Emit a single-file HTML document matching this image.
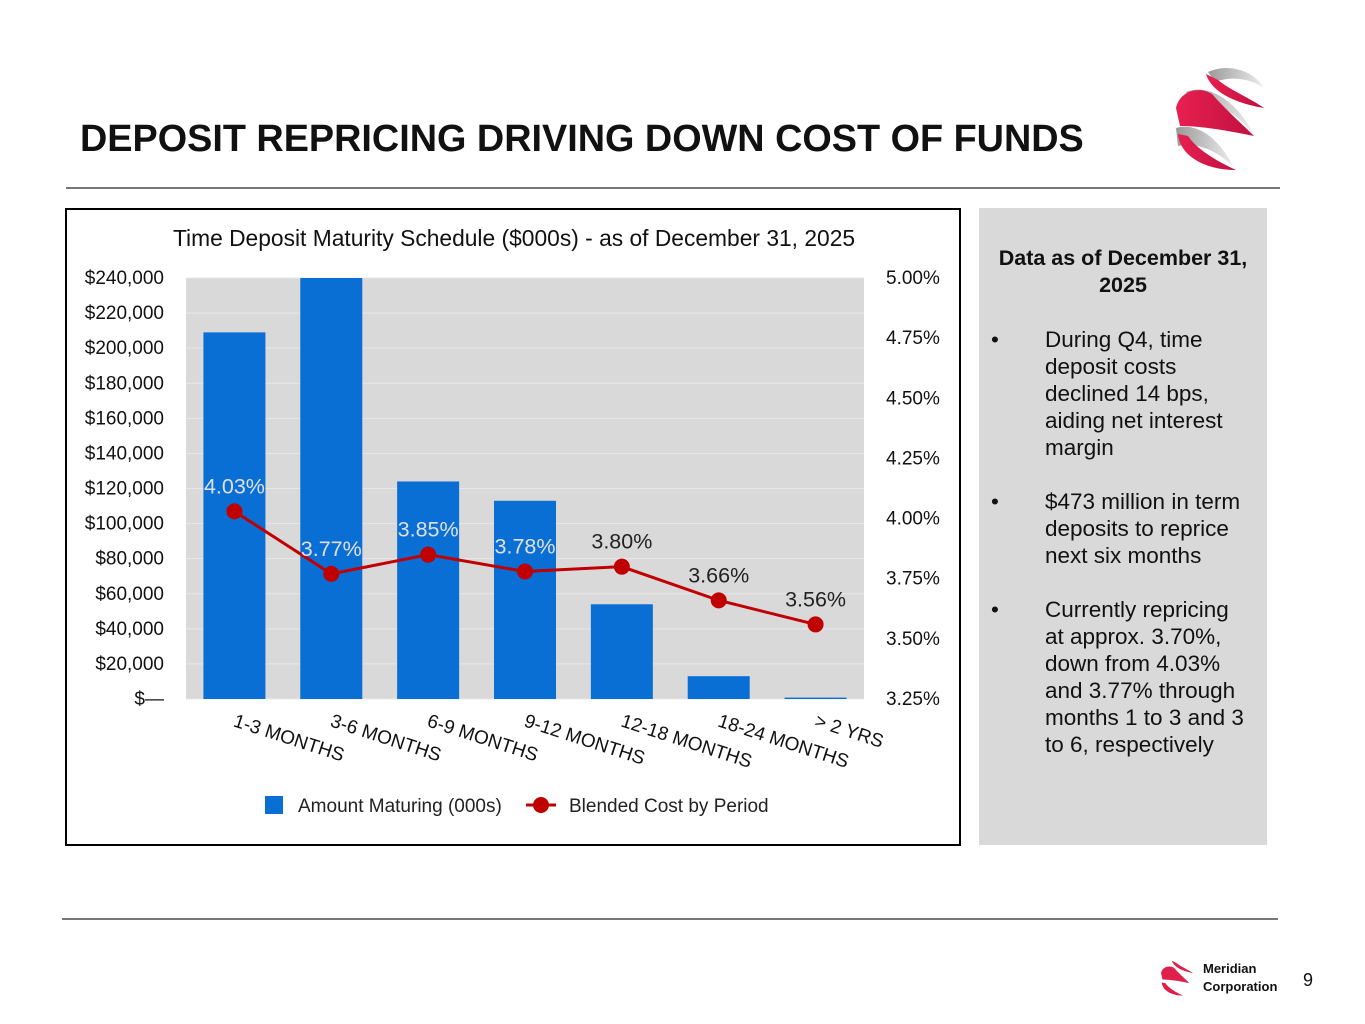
<!DOCTYPE html>
<html><head><meta charset="utf-8">
<style>
body{margin:0;width:1365px;height:1024px;background:#fff;font-family:"Liberation Sans",Arial,sans-serif;position:relative;overflow:hidden}
.abs{position:absolute}
</style></head><body>
<div class="abs" style="left:80px;top:118px;font-size:37.8px;font-weight:bold;color:#111;white-space:nowrap">DEPOSIT REPRICING DRIVING DOWN COST OF FUNDS</div>
<svg class="abs" style="left:1170px;top:64px" width="100" height="110" viewBox="0 0 100 110">
<defs><linearGradient id="gr" x1="0" x2="1"><stop offset="0" stop-color="#e82050"/><stop offset="1" stop-color="#c01040"/></linearGradient>
<linearGradient id="gy" x1="0" x2="1"><stop offset="0" stop-color="#999"/><stop offset="1" stop-color="#eee"/></linearGradient></defs>
<path d="M38 8 C60 -2 85 8 94 24 C80 14 60 12 45 18 Z" fill="url(#gy)"/>
<path d="M36 10 C42 30 70 40 94 44 C80 34 60 26 48 16 Z" fill="url(#gr)"/>
<path d="M16 28 C40 18 70 40 84 72 C70 50 45 36 24 40 Z" fill="url(#gy)"/>
<path d="M6 44 C10 26 30 22 42 30 C55 45 70 58 84 72 C55 66 30 62 10 62 Z" fill="url(#gr)"/>
<path d="M6 64 C28 58 50 75 64 104 C48 86 26 78 8 82 Z" fill="url(#gy)"/>
<path d="M8 70 C10 92 35 106 66 106 C44 96 26 84 18 72 Z" fill="url(#gr)"/>
</svg>
<div class="abs" style="left:66px;top:187px;width:1214px;height:2px;background:#777"></div>

<div class="abs" style="left:65px;top:208px;width:892px;height:634px;border:2px solid #000"></div>
<svg class="abs" id="chart" style="left:0;top:0" width="1365" height="1024"></svg>

<div class="abs" style="left:979px;top:208px;width:288px;height:637px;background:#d9d9d9;color:#111;font-size:22.5px;line-height:27px">
 <div style="font-weight:bold;text-align:center;margin-top:37px;padding:0 8px;font-size:21.5px">Data as of December 31, 2025</div>
 <div style="position:relative;margin-top:27px;padding-left:66px;padding-right:28px">
  <span style="position:absolute;left:12px">•</span>During Q4, time deposit costs declined 14 bps, aiding net interest margin</div>
 <div style="position:relative;margin-top:27px;padding-left:66px;padding-right:20px">
  <span style="position:absolute;left:12px">•</span>$473 million in term deposits to reprice next six months</div>
 <div style="position:relative;margin-top:27px;padding-left:66px;padding-right:20px">
  <span style="position:absolute;left:12px">•</span>Currently repricing at approx. 3.70%, down from 4.03% and 3.77% through months 1 to 3 and 3 to 6, respectively</div>
</div>

<div class="abs" style="left:62px;top:918px;width:1216px;height:2px;background:#777"></div>
<svg class="abs" style="left:1157px;top:957px" width="40" height="40" viewBox="0 0 100 110">
<path d="M36 10 C42 30 70 40 94 44 C80 34 60 26 48 16 Z" fill="#e0204a"/>
<path d="M6 44 C10 26 30 22 42 30 C55 45 70 58 84 72 C55 66 30 62 10 62 Z" fill="#e0204a"/>
<path d="M8 70 C10 92 35 106 66 106 C44 96 26 84 18 72 Z" fill="#e0204a"/>
</svg>
<div class="abs" style="left:1203px;top:960px;font-size:13px;font-weight:bold;line-height:18px;color:#111">Meridian<br>Corporation</div>
<div class="abs" style="left:1303px;top:970px;font-size:18px;color:#111">9</div>

<script>
const categories=["1-3 MONTHS","3-6 MONTHS","6-9 MONTHS","9-12 MONTHS","12-18 MONTHS","18-24 MONTHS","> 2 YRS"];
const amounts=[209000,240000,124000,113000,54000,13000,800];
const rates=[4.03,3.77,3.85,3.78,3.80,3.66,3.56];
const leftTicks=[0,20000,40000,60000,80000,100000,120000,140000,160000,180000,200000,220000,240000];
const rightTicks=[3.25,3.5,3.75,4.0,4.25,4.5,4.75,5.0];

const NS="http://www.w3.org/2000/svg";
const svg=document.getElementById('chart');
const px0=186,px1=864,py0=699,py1=278;
const yL=v=>py0-(v/240000)*(py0-py1);
const yR=v=>py0-((v-3.25)/1.75)*(py0-py1);
const band=(px1-px0)/categories.length;
const xC=i=>px0+band*(i+0.5);
function mk(tag,attrs,txt){const e=document.createElementNS(NS,tag);for(const k in attrs)e.setAttribute(k,attrs[k]);if(txt!=null)e.textContent=txt;svg.appendChild(e);return e;}
const fmt=v=>v===0?"$—":"$"+v.toLocaleString("en-US");

let bg=mk('rect',{x:px0,y:py1,width:px1-px0,height:py0-py1,fill:'#d9d9d9'});


leftTicks.forEach(t=>{
  const g=mk('line',{x1:px0,x2:px1,y1:yL(t),y2:yL(t),stroke:'#e8e8e8','stroke-width':1});
  
  
  const l=mk('text',{x:164,y:yL(t)+6,'text-anchor':'end','font-size':19,fill:'#111'},fmt(t));
  
  
});
rightTicks.forEach(t=>{
  const l=mk('text',{x:886,y:yR(t)+6,'font-size':19,fill:'#111'},t.toFixed(2)+"%");
  
  
});
const bw=62;
amounts.forEach((v,i)=>{
  const r=mk('rect',{x:xC(i)-bw/2,y:yL(v),width:bw,height:py0-yL(v),fill:'#0a6fd4'});
  
  
});
categories.forEach((c,i)=>{
  const t=mk('text',{x:0,y:0,'font-size':19,fill:'#111',transform:`translate(${xC(i)-2},${726}) rotate(18)`},c);
  
  
});
const pts=rates.map((v,i)=>xC(i)+","+yR(v)).join(" ");
const pl=mk('polyline',{points:pts,fill:'none',stroke:'#c00000','stroke-width':3});


rates.forEach((v,i)=>{
  const c=mk('circle',{cx:xC(i),cy:yR(v),r:8,fill:'#c00000'});
  
  
  const inBar=yL(amounts[i])<yR(v)-30;
  const t=mk('text',{x:xC(i),y:yR(v)-18,'text-anchor':'middle','font-size':21.5,fill:inBar?'#e0e0e0':'#222'},v.toFixed(2)+"%");
  
  
});
const tt=mk('text',{x:514,y:246,'text-anchor':'middle','font-size':22.8,fill:'#111'},"Time Deposit Maturity Schedule ($000s) - as of December 31, 2025");


const lr=mk('rect',{x:265,y:796,width:18,height:18,fill:'#0a6fd4'});


const lt1=mk('text',{x:298,y:812,'font-size':19,fill:'#222'},"Amount Maturing (000s)");


const ll=mk('line',{x1:526,x2:556,y1:805,y2:805,stroke:'#c00000','stroke-width':3});


const lc=mk('circle',{cx:541,cy:805,r:8,fill:'#c00000'});


const lt2=mk('text',{x:569,y:812,'font-size':19,fill:'#222'},"Blended Cost by Period");


</script>
</body></html>
